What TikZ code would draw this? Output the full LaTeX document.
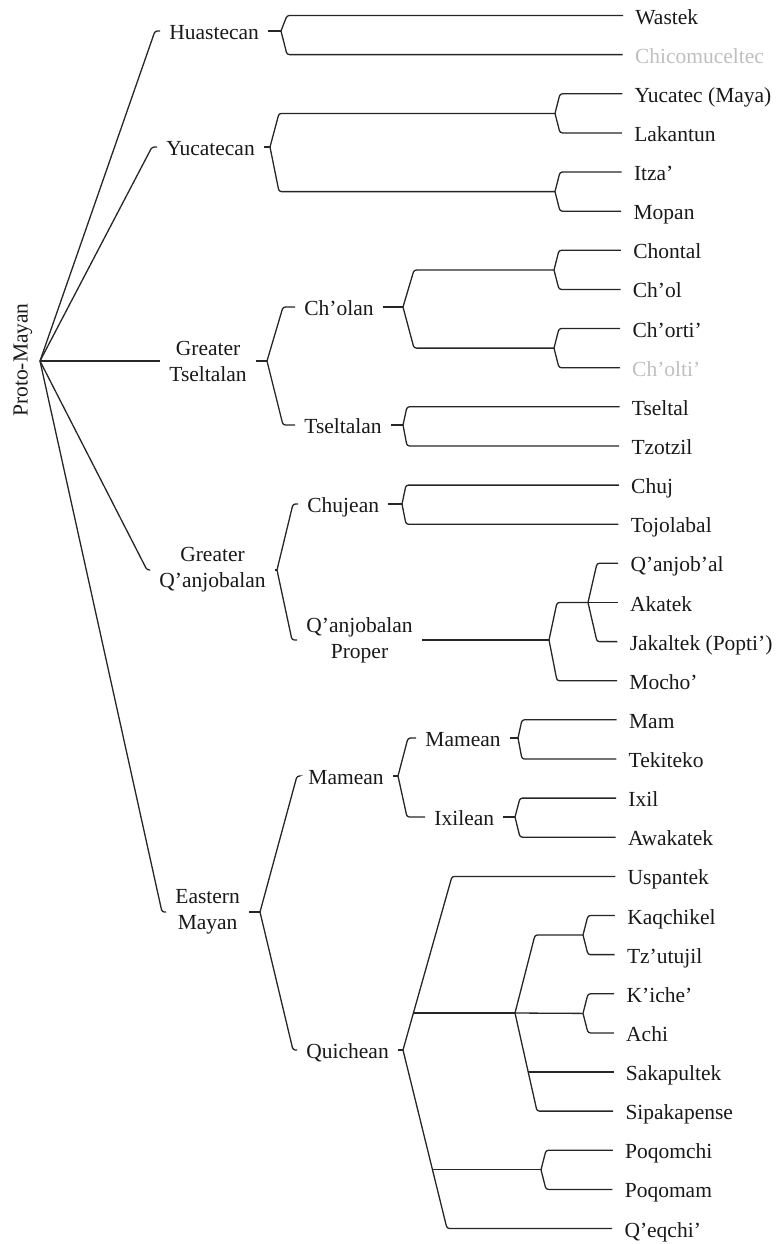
\documentclass[tikz,border=0pt]{standalone}
\usepackage{fontspec}
\setmainfont{Liberation Serif}
\usetikzlibrary{calc}
\newcommand\lnk[3]{\draw[br] (#1) -- ($(#2 -| #1)+(#3,0)$) -- (#2);}
\begin{document}
\begin{tikzpicture}[x=0.5pt,y=-0.5pt,
  every node/.style={font=\fontsize{10.75pt}{13pt}\selectfont, text=black!90},
  br/.style={line width=0.65pt, rounded corners=1.2pt, draw=black!85},
  leaf/.style={anchor=west, inner xsep=6pt, inner ysep=0pt, text height=8.5pt, text depth=0pt},
  lab/.style={anchor=west, inner xsep=4.5pt, inner ysep=0pt, text height=8.5pt, text depth=0pt},
  lab2/.style={anchor=west, inner xsep=4.5pt, inner ysep=0pt, align=center},
  faded/.style={text=black!25}]
\useasboundingbox (0,0) rectangle (776,1244);

% ---------- leaves ----------
\node[leaf] (Was) at (623.0,15.5) {Wastek};
\node[leaf,faded] (Chc) at (622.6,54.6) {Chicomuceltec};
\node[leaf] (Ycc) at (622.3,93.8) {Yucatec (Maya)};
\node[leaf] (Lak) at (621.9,132.9) {Lakantun};
\node[leaf] (Itz) at (621.6,172.0) {Itza'};
\node[leaf] (Mop) at (621.2,211.2) {Mopan};
\node[leaf] (Chn) at (620.9,250.3) {Chontal};
\node[leaf] (Chl) at (620.5,289.4) {Ch'ol};
\node[leaf] (Cht) at (620.2,328.5) {Ch'orti'};
\node[leaf,faded] (Clt) at (619.8,367.7) {Ch'olti'};
\node[leaf] (Tsl) at (619.5,406.8) {Tseltal};
\node[leaf] (Tzo) at (619.1,445.9) {Tzotzil};
\node[leaf] (Chj) at (618.8,485.1) {Chuj};
\node[leaf] (Toj) at (618.4,524.2) {Tojolabal};
\node[leaf] (Qnj) at (618.1,563.3) {Q'anjob'al};
\node[leaf] (Aka) at (617.7,602.5) {Akatek};
\node[leaf] (Jak) at (617.4,641.6) {Jakaltek (Popti')};
\node[leaf] (Moc) at (617.0,680.7) {Mocho'};
\node[leaf] (Mm) at (616.7,719.8) {Mam};
\node[leaf] (Tek) at (616.3,759.0) {Tekiteko};
\node[leaf] (Ixl) at (616.0,798.1) {Ixil};
\node[leaf] (Awa) at (615.6,837.2) {Awakatek};
\node[leaf] (Usp) at (615.3,876.4) {Uspantek};
\node[leaf] (Kaq) at (614.9,915.5) {Kaqchikel};
\node[leaf] (Tzu) at (614.6,954.6) {Tz'utujil};
\node[leaf] (Kic) at (614.2,993.8) {K'iche'};
\node[leaf] (Ach) at (613.8,1032.9) {Achi};
\node[leaf] (Sak) at (613.5,1072.0) {Sakapultek};
\node[leaf] (Sip) at (613.1,1111.1) {Sipakapense};
\node[leaf] (Pqc) at (612.8,1150.3) {Poqomchi};
\node[leaf] (Pqm) at (612.4,1189.4) {Poqomam};
\node[leaf] (Qeq) at (612.1,1228.5) {Q'eqchi'};

% ---------- root and level 1 ----------
\coordinate (root) at (40,361);
\node[rotate=90, inner sep=0pt] (pm) at (23,360) {Proto-Mayan};

\node[lab] (Hua) at (160,31) {Huastecan};
\coordinate (vHua) at (281,31);
\node[lab] (Yuc) at (157,147) {Yucatecan};
\coordinate (vYuc) at (270,147);
\node[lab2] (GT) at (160,361) {Greater\\Tseltalan};
\coordinate (vGT) at (267,361);
\node[lab2] (GQ) at (150,570) {Greater\\Q'anjobalan};
\coordinate (vGQ) at (277,570);
\node[lab2] (EM) at (166,912) {Eastern\\Mayan};
\coordinate (vEM) at (260,912);

% ---------- level 2 and 3 labels ----------
\node[lab] (Chol) at (295,307) {Ch'olan};
\coordinate (vChol) at (403,307);
\node[lab] (Tsel) at (295,425) {Tseltalan};
\coordinate (vTsel) at (403,425);
\node[lab] (Chuj) at (298,504) {Chujean};
\coordinate (vChuj) at (402,504);
\node[lab2] (QP) at (297,640) {Q'anjobalan\\Proper};
\coordinate (vQP) at (549,640);
\node[lab] (Mame) at (299,776) {Mamean};
\coordinate (vMame) at (398,776);
\node[lab] (Quic) at (297,1050) {Quichean};
\coordinate (vQuic) at (403,1050);
\node[lab] (Mam2) at (416,738) {Mamean};
\coordinate (vMam2) at (518,738);
\node[lab] (Ixil) at (425,817) {Ixilean};
\coordinate (vIxil) at (515,817);

% ---------- unlabelled group vertices ----------
\coordinate (vYL) at (555,113.4);
\coordinate (vIM) at (555,191.6);
\coordinate (vCC) at (554,270);
\coordinate (vCO) at (554,348.1);
\coordinate (vQAJ) at (588,602.5);
\coordinate (jKi) at (413.4,1013);
\coordinate (cUsp) at (452,876.4);
\coordinate (jPq) at (432.5,1169.8);
\coordinate (cQeq) at (447,1228.5);
\coordinate (vKi) at (515,1013);
\coordinate (cKT) at (535,935);
\coordinate (vKT) at (583,935);
\coordinate (vKA) at (583,1013.4);
\coordinate (jSak) at (528.2,1072);
\coordinate (cSip) at (537,1111.1);
\coordinate (vPq) at (541,1169.8);

% ---------- connectors: root ----------
\lnk{root}{Hua.west}{115}
\lnk{root}{Yuc.west}{112}
\draw[br] (root) -- (GT.west);
\lnk{root}{GQ.west}{107}
\lnk{root}{EM.west}{122}

% dashes from labels to their vertices
\draw[br] (Hua.east) -- (vHua);
\draw[br] (Yuc.east) -- (vYuc);
\draw[br] (GT.east) -- (vGT);
\draw[br] (GQ.east) -- (vGQ);
\draw[br] (EM.east) -- (vEM);
\draw[br] (Chol.east) -- (vChol);
\draw[br] (Tsel.east) -- (vTsel);
\draw[br] (Chuj.east) -- (vChuj);
\draw[br] (QP.east) -- (vQP);
\draw[br] (Mame.east) -- (vMame);
\draw[br] (Quic.east) -- (vQuic);
\draw[br] (Mam2.east) -- (vMam2);
\draw[br] (Ixil.east) -- (vIxil);

% Huastecan
\lnk{vHua}{Was.west}{6}
\lnk{vHua}{Chc.west}{6}
% Yucatecan
\lnk{vYuc}{vYL}{9}
\lnk{vYuc}{vIM}{9}
\lnk{vYL}{Ycc.west}{5}
\lnk{vYL}{Lak.west}{5}
\lnk{vIM}{Itz.west}{5}
\lnk{vIM}{Mop.west}{5}
% Greater Tseltalan
\lnk{vGT}{Chol.west}{16}
\lnk{vGT}{Tsel.west}{16}
\lnk{vChol}{vCC}{11}
\lnk{vChol}{vCO}{11}
\lnk{vCC}{Chn.west}{5}
\lnk{vCC}{Chl.west}{5}
\lnk{vCO}{Cht.west}{5}
\lnk{vCO}{Clt.west}{5}
\lnk{vTsel}{Tsl.west}{4}
\lnk{vTsel}{Tzo.west}{4}
% Greater Q'anjobalan
\lnk{vGQ}{Chuj.west}{16}
\lnk{vGQ}{QP.west}{15}
\lnk{vChuj}{Chj.west}{4}
\lnk{vChuj}{Toj.west}{4}
\lnk{vQP}{vQAJ}{8}
\lnk{vQP}{Moc.west}{8}
\lnk{vQAJ}{Qnj.west}{9}
\draw[br] (vQAJ) -- (Aka.west);
\lnk{vQAJ}{Jak.west}{9}
% Eastern Mayan
\lnk{vEM}{Mame.west}{37}
\lnk{vEM}{Quic.west}{33}
\lnk{vMame}{Mam2.west}{10}
\lnk{vMame}{Ixil.west}{9}
\lnk{vMam2}{Mm.west}{4}
\lnk{vMam2}{Tek.west}{4}
\lnk{vIxil}{Ixl.west}{5}
\lnk{vIxil}{Awa.west}{5}
% Quichean
\draw[br] (vQuic) -- (jKi) -- (cUsp) -- (Usp.west);
\draw[br] (vQuic) -- (jPq) -- (cQeq) -- (Qeq.west);
\draw[br] (jKi) -- (vKi);
\draw[br] (jPq) -- (vPq);
\draw[br] (vKi) -- (cKT) -- (vKT);
\draw[br] (vKi) -- (vKA);
\draw[br] (vKi) -- (jSak) -- (cSip) -- (Sip.west);
\draw[br] (jSak) -- (Sak.west);
\lnk{vKT}{Kaq.west}{5}
\lnk{vKT}{Tzu.west}{5}
\lnk{vKA}{Kic.west}{5}
\lnk{vKA}{Ach.west}{5}
\lnk{vPq}{Pqc.west}{5}
\lnk{vPq}{Pqm.west}{5}
\end{tikzpicture}
\end{document}
